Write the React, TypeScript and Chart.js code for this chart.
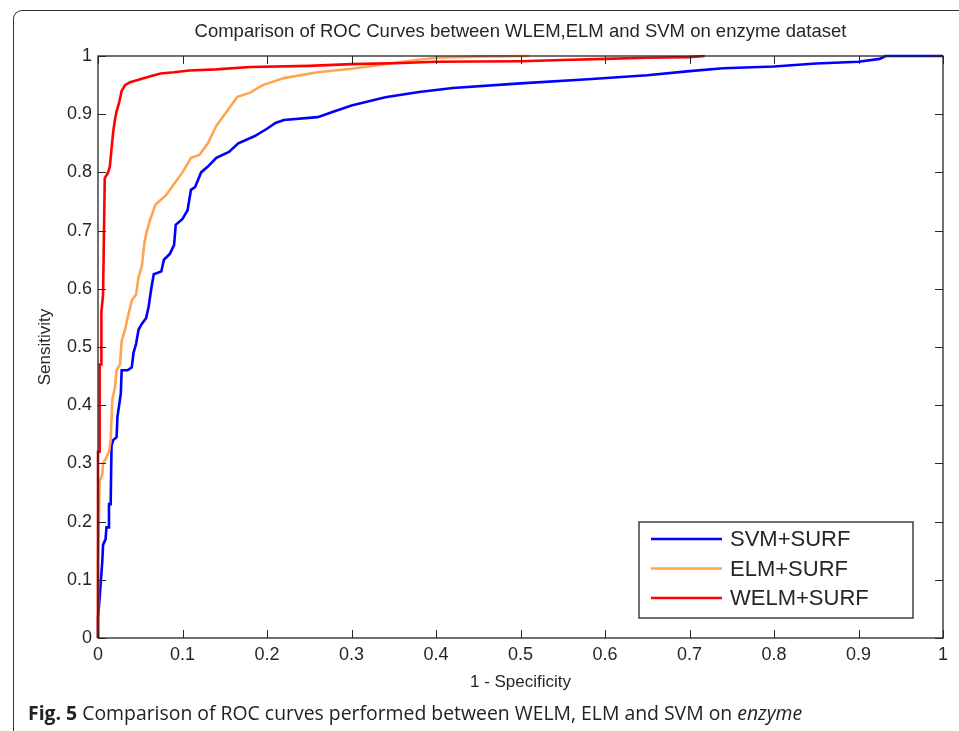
import React, { useEffect, useRef } from 'react';
import { Chart, registerables } from 'chart.js';

Chart.register(...registerables);

// ---- Data ----
const seriesLabels = ['SVM+SURF', 'ELM+SURF', 'WELM+SURF'];
const seriesColors = ['#0000ff', '#ffa552', '#ff0000'];

const svmFpr = [0, 0, 0.002, 0.003, 0.005, 0.006, 0.009, 0.01, 0.012, 0.013, 0.015, 0.016, 0.018, 0.022, 0.023, 0.025, 0.027, 0.028, 0.035, 0.04, 0.042, 0.045, 0.048, 0.052, 0.057, 0.06, 0.063, 0.066, 0.075, 0.078, 0.085, 0.09, 0.092, 0.1, 0.106, 0.11, 0.115, 0.122, 0.13, 0.14, 0.155, 0.166, 0.185, 0.2, 0.21, 0.22, 0.26, 0.28, 0.3, 0.34, 0.38, 0.42, 0.5, 0.58, 0.65, 0.7, 0.74, 0.8, 0.85, 0.9, 0.925, 0.932, 1.0];
const svmTpr = [0, 0.035, 0.07, 0.09, 0.13, 0.16, 0.17, 0.19, 0.19, 0.23, 0.23, 0.33, 0.34, 0.345, 0.38, 0.4, 0.42, 0.46, 0.46, 0.465, 0.49, 0.505, 0.53, 0.54, 0.55, 0.57, 0.6, 0.625, 0.63, 0.65, 0.66, 0.675, 0.71, 0.72, 0.735, 0.77, 0.775, 0.8, 0.81, 0.825, 0.835, 0.85, 0.862, 0.875, 0.885, 0.89, 0.895, 0.905, 0.915, 0.929, 0.938, 0.945, 0.953, 0.96, 0.967, 0.974, 0.979, 0.982, 0.987, 0.99, 0.995, 1.0, 1.0];

const elmFpr = [0, 0, 0.002, 0.005, 0.006, 0.01, 0.013, 0.015, 0.017, 0.02, 0.022, 0.026, 0.028, 0.032, 0.035, 0.04, 0.045, 0.048, 0.052, 0.055, 0.058, 0.062, 0.068, 0.08, 0.09, 0.1, 0.11, 0.12, 0.13, 0.14, 0.15, 0.165, 0.18, 0.195, 0.22, 0.26, 0.3, 0.32, 0.36, 0.4, 0.45, 0.51];
const elmTpr = [0, 0.13, 0.27, 0.28, 0.3, 0.31, 0.32, 0.34, 0.41, 0.43, 0.46, 0.47, 0.51, 0.53, 0.55, 0.58, 0.59, 0.62, 0.64, 0.68, 0.7, 0.72, 0.745, 0.76, 0.78, 0.8, 0.825, 0.83, 0.85, 0.88, 0.9, 0.93, 0.937, 0.95, 0.962, 0.972, 0.978, 0.982, 0.99, 0.997, 0.999, 1.0];

const welmFpr = [0, 0, 0.002, 0.002, 0.004, 0.004, 0.006, 0.008, 0.012, 0.014, 0.016, 0.018, 0.02, 0.022, 0.025, 0.028, 0.032, 0.038, 0.05, 0.062, 0.074, 0.09, 0.108, 0.14, 0.18, 0.25, 0.3, 0.36, 0.4, 0.5, 0.55, 0.6, 0.65, 0.7, 0.718];
const welmTpr = [0, 0.32, 0.32, 0.47, 0.47, 0.56, 0.59, 0.79, 0.80, 0.81, 0.84, 0.87, 0.89, 0.905, 0.92, 0.94, 0.95, 0.955, 0.96, 0.965, 0.97, 0.972, 0.975, 0.977, 0.981, 0.983, 0.986, 0.988, 0.99, 0.991, 0.993, 0.995, 0.997, 0.998, 1.0];

const xTickValues = [0, 0.1, 0.2, 0.3, 0.4, 0.5, 0.6, 0.7, 0.8, 0.9, 1];
const yTickValues = [0, 0.1, 0.2, 0.3, 0.4, 0.5, 0.6, 0.7, 0.8, 0.9, 1];

const chartTitle = 'Comparison of ROC Curves between WLEM,ELM and SVM on enzyme dataset';
const xAxisTitle = '1 - Specificity';
const yAxisTitle = 'Sensitivity';

const FONT = '"Liberation Sans", Arial, sans-serif';
const INK = '#262626';

const toPoints = (xs: number[], ys: number[]) => xs.map((x, i) => ({ x, y: ys[i] }));

const matlabPlugin = {
  id: 'matlabFrame',
  afterDatasetsDraw(chart: any) {
    const { ctx, chartArea } = chart;
    const { left, right, top, bottom } = chartArea;
    const xs = chart.scales.x;
    const ys = chart.scales.y;
    ctx.save();
    // axes box
    ctx.strokeStyle = INK;
    ctx.lineWidth = 1.3;
    ctx.strokeRect(left, top, right - left, bottom - top);
    // inward ticks on all four sides
    ctx.lineWidth = 1;
    const tl = 8;
    ctx.beginPath();
    xs.ticks.forEach((t: any) => {
      const px = Math.round(xs.getPixelForValue(t.value)) + 0.5;
      ctx.moveTo(px, bottom);
      ctx.lineTo(px, bottom - tl);
      ctx.moveTo(px, top);
      ctx.lineTo(px, top + tl);
    });
    ys.ticks.forEach((t: any) => {
      const py = Math.round(ys.getPixelForValue(t.value)) + 0.5;
      ctx.moveTo(left, py);
      ctx.lineTo(left + tl, py);
      ctx.moveTo(right, py);
      ctx.lineTo(right - tl, py);
    });
    ctx.stroke();

    // title
    ctx.fillStyle = INK;
    ctx.font = `18.5px ${FONT}`;
    ctx.textAlign = 'center';
    ctx.textBaseline = 'middle';
    ctx.fillText(chartTitle, (left + right) / 2, top - 24);

    // legend box (lower right inside axes)
    const bx1 = right - 304;
    const bx2 = right - 30;
    const by1 = bottom - 116;
    const by2 = bottom - 20;
    ctx.fillStyle = '#ffffff';
    ctx.fillRect(bx1, by1, bx2 - bx1, by2 - by1);
    ctx.strokeStyle = INK;
    ctx.lineWidth = 1.3;
    ctx.strokeRect(bx1, by1, bx2 - bx1, by2 - by1);
    ctx.font = `22px ${FONT}`;
    ctx.textAlign = 'left';
    ctx.textBaseline = 'middle';
    chart.data.datasets.forEach((ds: any, i: number) => {
      const cy = by1 + 17 + i * 29.5;
      ctx.strokeStyle = ds.borderColor;
      ctx.lineWidth = 2.5;
      ctx.beginPath();
      ctx.moveTo(bx1 + 12, cy);
      ctx.lineTo(bx1 + 83, cy);
      ctx.stroke();
      ctx.fillStyle = INK;
      ctx.fillText(ds.label, bx1 + 91, cy + 1);
    });
    ctx.restore();
  },
};

export default function App() {
  const ref = useRef<HTMLCanvasElement | null>(null);

  useEffect(() => {
    if (!ref.current) return;
    const series = [
      toPoints(svmFpr, svmTpr),
      toPoints(elmFpr, elmTpr),
      toPoints(welmFpr, welmTpr),
    ];
    const chart = new Chart(ref.current, {
      type: 'scatter',
      data: {
        datasets: series.map((pts, i) => ({
          label: seriesLabels[i],
          data: pts,
          showLine: true,
          borderColor: seriesColors[i],
          backgroundColor: seriesColors[i],
          borderWidth: 2.6,
          pointRadius: 0,
          pointHoverRadius: 0,
          tension: 0,
          clip: 4,
          order: 3 - i,
        })),
      },
      options: {
        animation: false,
        responsive: false,
        events: [],
        layout: { padding: { left: 0, right: 16, top: 56, bottom: 0 } },
        plugins: { legend: { display: false }, tooltip: { enabled: false }, title: { display: false } },
        scales: {
          x: {
            type: 'linear',
            min: 0,
            max: 1,
            afterBuildTicks: (s: any) => { s.ticks = xTickValues.map((v) => ({ value: v })); },
            afterFit: (s: any) => { s.height = 93; },
            grid: { display: false, drawTicks: false },
            border: { display: false },
            ticks: {
              padding: 6,
              color: INK,
              font: { family: FONT, size: 18 },
              maxRotation: 0,
              callback: (v: any) => String(v),
            },
            title: {
              display: true,
              text: xAxisTitle,
              color: INK,
              font: { family: FONT, size: 17 },
              padding: { top: 0, bottom: 38 },
            },
          },
          y: {
            type: 'linear',
            min: 0,
            max: 1,
            afterBuildTicks: (s: any) => { s.ticks = yTickValues.map((v) => ({ value: v })); },
            afterFit: (s: any) => { s.width = 98; },
            grid: { display: false, drawTicks: false },
            border: { display: false },
            ticks: {
              padding: 6,
              color: INK,
              font: { family: FONT, size: 18 },
              callback: (v: any) => String(v),
            },
            title: {
              display: true,
              text: yAxisTitle,
              color: INK,
              font: { family: FONT, size: 17 },
              padding: { top: 35, bottom: 0 },
            },
          },
        },
      },
      plugins: [matlabPlugin],
    });
    return () => chart.destroy();
  }, []);

  return (
    <div
      style={{
        position: 'fixed',
        left: 0,
        top: 0,
        width: 959,
        height: 731,
        overflow: 'hidden',
        background: '#ffffff',
      }}
    >
      <div
        style={{
          position: 'absolute',
          left: 13,
          top: 10,
          width: 980,
          height: 760,
          borderTop: '1.6px solid #333',
          borderLeft: '1.6px solid #333',
          borderTopLeftRadius: 9,
        }}
      />
      <canvas ref={ref} width={959} height={731} style={{ position: 'absolute', left: 0, top: 0 }} />
      <div
        style={{
          position: 'absolute',
          left: 28,
          top: 701,
          fontFamily: '"Open Sans", "Noto Sans", sans-serif',
          fontSize: 19.4,
          color: '#222',
          whiteSpace: 'nowrap',
          lineHeight: '24px',
        }}
      >
        <b>Fig. 5</b> Comparison of ROC curves performed between WELM, ELM and SVM on <i>enzyme</i>
      </div>
    </div>
  );
}
